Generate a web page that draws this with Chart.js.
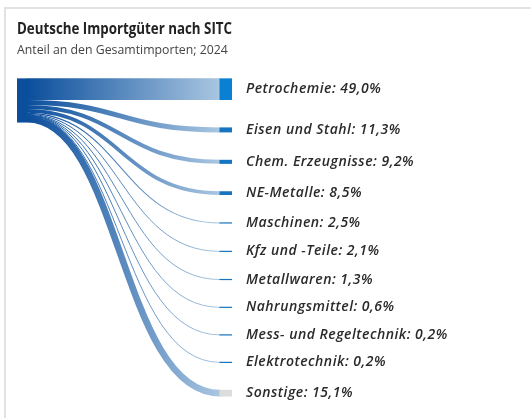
<!DOCTYPE html>
<html>
<head>
<meta charset="utf-8">
<script src="https://cdn.jsdelivr.net/npm/chart.js@4.4.1/dist/chart.umd.min.js"></script>
<style>
  html, body { margin: 0; padding: 0; background: #fff; }
  #wrap { position: relative; width: 531px; height: 418px; overflow: hidden; }
  #frame { position: absolute; left: 4px; top: 7px; width: 540px; height: 430px;
           border-top: 2px solid #e2e2e2; border-left: 2px solid #e2e2e2; box-sizing: border-box; }
  canvas { position: absolute; left: 0; top: 0; }
</style>
</head>
<body>
<div id="wrap">
  <div id="frame"></div>
  <canvas id="c" width="531" height="418"></canvas>
</div>
<script>
// ---- data ----
const sourceName = 'Importe';
const categories = ['Petrochemie', 'Eisen und Stahl', 'Chem. Erzeugnisse', 'NE-Metalle', 'Maschinen',
  'Kfz und -Teile', 'Metallwaren', 'Nahrungsmittel', 'Mess- und Regeltechnik', 'Elektrotechnik', 'Sonstige'];
const shares = [49.0, 11.3, 9.2, 8.5, 2.5, 2.1, 1.3, 0.6, 0.2, 0.2, 15.1];
const titleText = 'Deutsche Importgüter nach SITC';
const subtitleText = 'Anteil an den Gesamtimporten; 2024';

// ---- layout constants (styles) ----
const PAD_UNITS = 62;      // vertical gap between target nodes, in value units
const NODE_W = 12;         // px
const SRC_W = 10;          // px
const total = shares.reduce((a, b) => a + b, 0);
const yMax = total + PAD_UNITS * (shares.length - 1);

// node/link geometry in data units
const srcTops = [];
const tgtTops = [];
{
  let s = 0, t = 0;
  shares.forEach((v, i) => {
    srcTops.push(s); s += v;
    tgtTops.push(t); t += v + PAD_UNITS;
  });
}

const fmt = v => v.toFixed(1).replace('.', ',') + '%';

const sankeyPlugin = {
  id: 'sankey',
  afterDatasetsDraw(chart) {
    const ctx = chart.ctx;
    const xs = chart.scales.x, ys = chart.scales.y;
    const xL = xs.getPixelForValue(0), xR = xs.getPixelForValue(1);
    const x0 = xL + SRC_W, x1 = xR - NODE_W;
    const xm = (x0 + x1) / 2 - 3;
    ctx.save();
    // links
    shares.forEach((v, i) => {
      const ya = ys.getPixelForValue(srcTops[i] + v / 2);
      const yb = ys.getPixelForValue(tgtTops[i] + v / 2);
      const w = Math.abs(ys.getPixelForValue(v) - ys.getPixelForValue(0));
      const g = ctx.createLinearGradient(x0, 0, x1, 0);
      g.addColorStop(0, '#0b4e9c');
      g.addColorStop(1, '#a9c6e1');
      ctx.strokeStyle = g;
      ctx.lineWidth = Math.max(1, w);
      ctx.lineCap = 'butt';
      ctx.beginPath();
      ctx.moveTo(x0, ya);
      ctx.bezierCurveTo(xm, ya, xm, yb, x1, yb);
      ctx.stroke();
    });
    // source node
    const sTop = ys.getPixelForValue(0), sBot = ys.getPixelForValue(total);
    ctx.fillStyle = '#0b4e9c';
    ctx.fillRect(xL, sTop, SRC_W + 0.5, sBot - sTop);
    // target nodes + labels
    ctx.font = 'italic 600 14px "Open Sans", sans-serif';
    try { ctx.letterSpacing = '0.5px'; } catch (e) {}
    ctx.textBaseline = 'middle';
    ctx.textAlign = 'left';
    shares.forEach((v, i) => {
      const t = ys.getPixelForValue(tgtTops[i]);
      const b = ys.getPixelForValue(tgtTops[i] + v);
      const h = Math.max(1.2, b - t);
      const c = (t + b) / 2;
      ctx.fillStyle = categories[i] === 'Sonstige' ? '#dcdcdc' : (i === 0 ? '#0a80d2' : '#1674c0');
      ctx.fillRect(x1 - 0.5, c - h / 2, NODE_W + 0.5, h);
      ctx.fillStyle = '#2a2a2a';
      ctx.fillText(categories[i] + ': ' + fmt(v), xR + 14, c);
    });
    ctx.restore();
  }
};

new Chart(document.getElementById('c'), {
  type: 'scatter',
  data: {
    datasets: [{
      label: sourceName,
      data: shares.map((v, i) => ({ x: 1, y: tgtTops[i] + v / 2 })),
      pointRadius: 0,
      showLine: false
    }]
  },
  options: {
    responsive: false,
    animation: false,
    events: [],
    layout: { padding: { top: 0, left: 17, right: 299, bottom: 21.5 } },
    plugins: {
      legend: { display: false },
      tooltip: { enabled: false },
      title: {
        display: true, text: titleText, align: 'start', color: '#222',
        font: { family: '"Open Sans", sans-serif', size: 15.5, weight: 'bold', lineHeight: 1.2 },
        padding: { top: 20, bottom: 3 }
      },
      subtitle: {
        display: true, text: subtitleText, align: 'start', color: '#444',
        font: { family: '"Open Sans", sans-serif', size: 12.3, weight: 'normal', lineHeight: 1.2 },
        padding: { top: 2, bottom: 20 }
      }
    },
    scales: {
      x: { type: 'linear', min: 0, max: 1, display: false },
      y: { type: 'linear', min: 0, max: yMax, reverse: true, display: false }
    }
  },
  plugins: [sankeyPlugin]
});
</script>
</body>
</html>
